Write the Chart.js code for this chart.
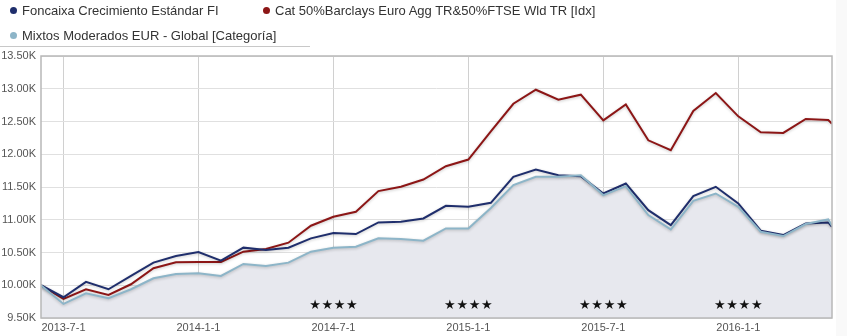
<!DOCTYPE html>
<html>
<head>
<meta charset="utf-8">
<script src="https://cdn.jsdelivr.net/npm/chart.js@4.4.0/dist/chart.umd.min.js"></script>
<style>
  body { margin: 0; background: #fff; }
  .wrap { position: relative; width: 847px; height: 336px; }
  .legend { position: absolute; left: 0; top: 0; width: 847px; height: 47px; font: 13px "Liberation Sans", Arial, sans-serif; color: #333; }
  .legend .item { position: absolute; white-space: nowrap; line-height: 16px; }
  .legend .dot { display: inline-block; width: 7px; height: 7px; border-radius: 50%; margin-right: 5px; vertical-align: 1px; }
  .legend .rule { position: absolute; left: 0; top: 46px; width: 310px; height: 1px; background: #c8c8c8; }
  .side { position: absolute; left: 836px; top: 0; width: 11px; height: 336px; background: #f9f9f9; }
  canvas { position: absolute; left: 0; top: 0; }
</style>
</head>
<body>
<div class="wrap">
  <div class="side"></div>
  <canvas id="chart" width="847" height="336"></canvas>
  <div class="legend" id="legend"><div class="rule"></div></div>
</div>
<script>
// monthly observations, the last one is a few days into May 2016
const dates = [
  '2013-6-1', '2013-7-1', '2013-8-1', '2013-9-1', '2013-10-1', '2013-11-1', '2013-12-1',
  '2014-1-1', '2014-2-1', '2014-3-1', '2014-4-1', '2014-5-1', '2014-6-1', '2014-7-1',
  '2014-8-1', '2014-9-1', '2014-10-1', '2014-11-1', '2014-12-1', '2015-1-1', '2015-2-1',
  '2015-3-1', '2015-4-1', '2015-5-1', '2015-6-1', '2015-7-1', '2015-8-1', '2015-9-1',
  '2015-10-1', '2015-11-1', '2015-12-1', '2016-1-1', '2016-2-1', '2016-3-1', '2016-4-1',
  '2016-5-1', '2016-5-6'
];

const seriesNames = [
  'Foncaixa Crecimiento Estándar FI',
  'Cat 50%Barclays Euro Agg TR&50%FTSE Wld TR [Idx]',
  'Mixtos Moderados EUR - Global [Categoría]'
];

const fondo = [
  10000, 9817, 10051, 9939, 10142, 10345, 10447, 10508, 10376, 10574, 10538, 10574,
  10716, 10797, 10782, 10959, 10970, 11020, 11213, 11198, 11259, 11655, 11766, 11680,
  11665, 11401, 11553, 11147, 10919, 11360, 11503, 11249, 10832, 10766, 10944, 10959, 10893
];

const indice = [
  10000, 9792, 9939, 9853, 10015, 10259, 10350, 10355, 10355, 10513, 10553, 10650,
  10909, 11046, 11122, 11437, 11503, 11614, 11817, 11919, 12350, 12771, 12985, 12832,
  12909, 12518, 12761, 12213, 12061, 12660, 12934, 12579, 12335, 12325, 12538, 12523, 12467
];

const categoria = [
  10000, 9715, 9878, 9802, 9939, 10107, 10173, 10183, 10142, 10325, 10294, 10345,
  10513, 10574, 10589, 10716, 10706, 10680, 10868, 10868, 11180, 11528, 11655, 11655,
  11680, 11376, 11513, 11071, 10853, 11289, 11401, 11198, 10817, 10751, 10934, 11005, 10909
];

const tickLabels = ['2013-7-1', '2014-1-1', '2014-7-1', '2015-1-1', '2015-7-1', '2016-1-1'];
const starDates = ['2014-7-1', '2015-1-1', '2015-7-1', '2016-1-1'];
const starRating = 4;

const colors = ['#1f2e6c', '#8c1616', '#8db5c8'];

// months since 2013-7-1
function monthPos(s) {
  const [y, m, d] = s.split('-').map(Number);
  return (y - 2013) * 12 + (m - 7) + (d - 1) / 30;
}
const xs = dates.map(monthPos);
const toPoints = vals => vals.map((v, i) => ({ x: xs[i], y: v }));

// legend
const legendPos = [[10, 3], [263, 3], [10, 28]];
const legend = document.getElementById('legend');
seriesNames.forEach((name, i) => {
  const el = document.createElement('div');
  el.className = 'item';
  el.style.left = legendPos[i][0] + 'px';
  el.style.top = legendPos[i][1] + 'px';
  el.innerHTML = '<span class="dot" style="background:' + colors[i] + '"></span>';
  el.appendChild(document.createTextNode(name));
  legend.appendChild(el);
});

const lineShadow = {
  id: 'lineShadow',
  beforeDatasetDraw(chart) {
    const ctx = chart.ctx;
    ctx.save();
    ctx.shadowColor = 'rgba(0,0,0,0.22)';
    ctx.shadowBlur = 3;
    ctx.shadowOffsetY = 1;
  },
  afterDatasetDraw(chart) {
    chart.ctx.restore();
  }
};

const frameAndStars = {
  id: 'frameAndStars',
  afterDatasetsDraw(chart) {
    const { ctx, chartArea: a, scales } = chart;
    ctx.save();
    ctx.strokeStyle = '#b8b8b8';
    ctx.lineWidth = 1.5;
    ctx.strokeRect(a.left, a.top, a.right - a.left, a.bottom - a.top);
    ctx.fillStyle = '#111';
    ctx.font = '13px "DejaVu Sans"';
    ctx.textAlign = 'center';
    ctx.textBaseline = 'middle';
    starDates.forEach(d => {
      const cx = scales.x.getPixelForValue(monthPos(d));
      for (let k = 0; k < starRating; k++) {
        ctx.fillText('★', cx + (k - (starRating - 1) / 2) * 12.3, a.bottom - 12);
      }
    });
    ctx.restore();
  }
};

new Chart(document.getElementById('chart'), {
  type: 'line',
  data: {
    datasets: [
      { label: seriesNames[0], data: toPoints(fondo), borderColor: colors[0], borderWidth: 2, pointRadius: 0, fill: false, order: 1 },
      { label: seriesNames[1], data: toPoints(indice), borderColor: colors[1], borderWidth: 2, pointRadius: 0, fill: false, order: 2 },
      { label: seriesNames[2], data: toPoints(categoria), borderColor: colors[2], borderWidth: 2, pointRadius: 0,
        fill: 'origin', backgroundColor: '#e7e8ee', order: 0 }
    ]
  },
  options: {
    responsive: false,
    animation: false,
    layout: { padding: { top: 56, right: 15, left: 0, bottom: 0 } },
    plugins: {
      legend: { display: false },
      tooltip: { enabled: false },
      filler: { drawTime: 'beforeDatasetsDraw' }
    },
    scales: {
      x: {
        type: 'linear',
        min: xs[0],
        max: xs[xs.length - 1],
        afterBuildTicks: s => { s.ticks = tickLabels.map(monthPos).map(v => ({ value: v })); },
        afterFit: s => { s.height = 18; },
        grid: { color: '#d0d0d0', drawTicks: false },
        border: { display: false },
        ticks: {
          autoSkip: false,
          maxRotation: 0,
          padding: 3,
          color: '#555',
          font: { family: 'Liberation Sans', size: 11 },
          callback: (v) => tickLabels.find(t => Math.abs(monthPos(t) - v) < 0.01) || ''
        }
      },
      y: {
        min: 9500,
        max: 13500,
        afterFit: s => { s.width = 41; },
        grid: { color: '#e0e0e0', drawTicks: false },
        border: { display: false },
        ticks: {
          stepSize: 500,
          padding: 5,
          color: '#555',
          font: { family: 'Liberation Sans', size: 11 },
          callback: v => (v / 1000).toFixed(2) + 'K'
        }
      }
    }
  },
  plugins: [lineShadow, frameAndStars]
});
</script>
</body>
</html>
